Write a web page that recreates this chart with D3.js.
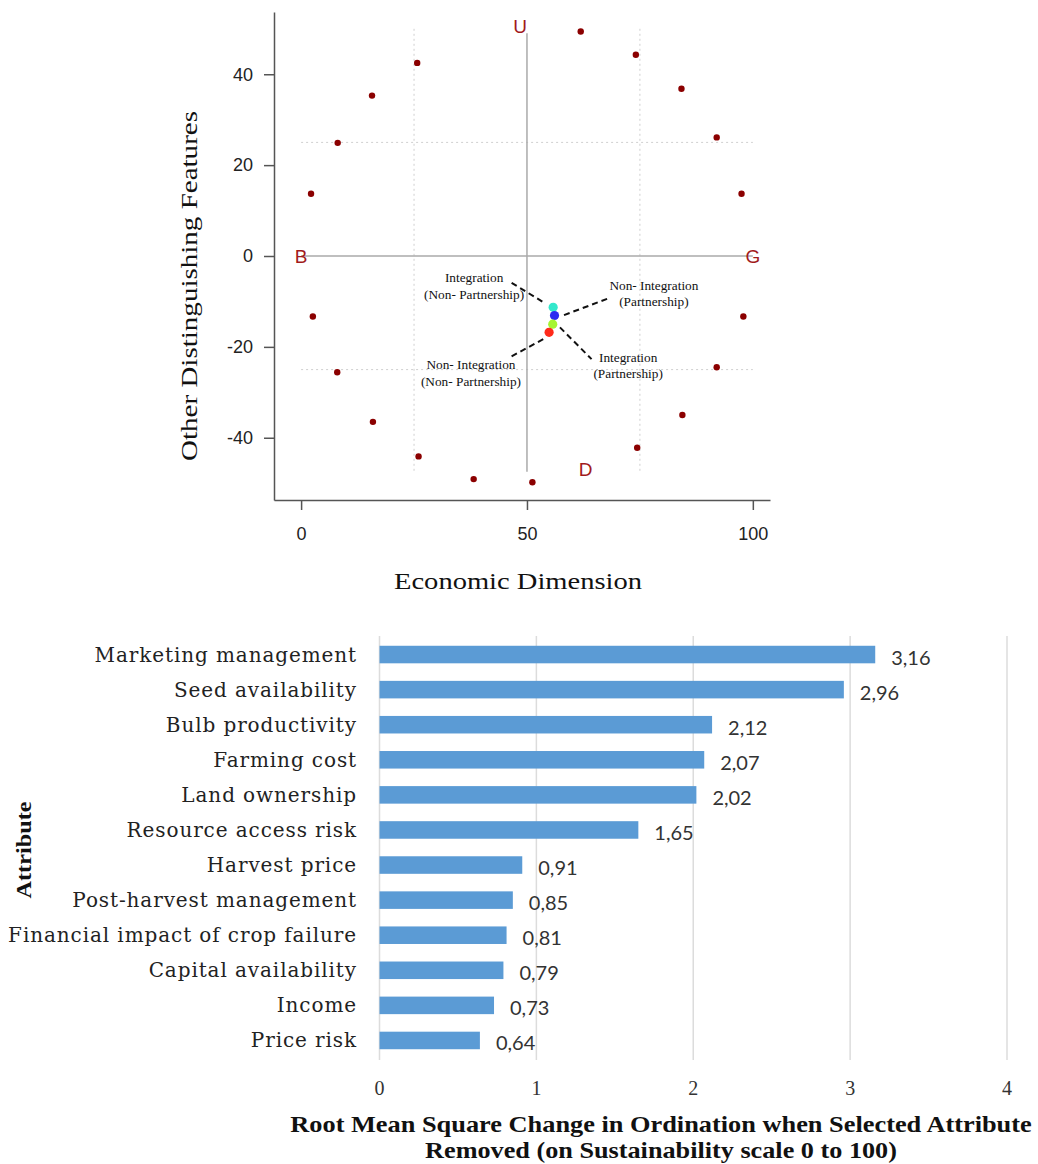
<!DOCTYPE html>
<html>
<head>
<meta charset="utf-8">
<script src="https://cdn.jsdelivr.net/npm/d3@7"></script>
<style>
  body { margin: 0; background: #fff; }
  svg { display: block; }
</style>
</head>
<body>
<script>
// ---- data: ordination plot ----
var anchorX = [2.2, 8.1, 15.7, 25.7, 61.9, 74.1, 84.2, 92.0, 97.5, 97.9, 92.0, 84.4, 74.4, 51.2, 38.2, 26.0, 15.9, 8.0, 2.6];
var anchorY = [13.7, 24.9, 35.3, 42.5, 49.4, 44.3, 36.8, 26.1, 13.7, -13.3, -24.5, -35.0, -42.2, -49.8, -49.1, -44.1, -36.5, -25.6, -13.3];

var groupNames = ["Integration (Non- Partnership)", "Non- Integration (Partnership)", "Integration (Partnership)", "Non- Integration (Non- Partnership)"];
var groupX = [55.8, 56.1, 55.7, 54.9];
var groupY = [-11.3, -13.1, -15.0, -16.8];

var poleLabels = ["U", "B", "G", "D"];
var poleX = [48.5, 0, 100, 63];
var poleY = [50.5, 0, 0, -47];

var xTicks = [0, 50, 100];
var yTicks = [-40, -20, 0, 20, 40];

// ---- data: leverage bars ----
var attributes = ["Marketing management", "Seed availability", "Bulb productivity", "Farming cost",
  "Land ownership", "Resource access risk", "Harvest price", "Post-harvest management",
  "Financial impact of crop failure", "Capital availability", "Income", "Price risk"];
var rmsValues = [3.16, 2.96, 2.12, 2.07, 2.02, 1.65, 0.91, 0.85, 0.81, 0.79, 0.73, 0.64];
var barTicks = [0, 1, 2, 3, 4];

var svg = d3.select("body").append("svg")
  .attr("width", 1038)
  .attr("height", 1164);

// text squeezed/stretched horizontally to a target width (the source picture is stretched)
function stretchedText(parent, str, cx, cy, width, angle, font, size, weight) {
  var g = parent.append("g");
  var t = g.append("text")
    .text(str)
    .attr("text-anchor", "middle")
    .attr("font-family", font)
    .attr("font-size", size)
    .attr("font-weight", weight || "normal")
    .attr("fill", "#111");
  var sx = width / t.node().getComputedTextLength();
  g.attr("transform", "translate(" + cx + "," + cy + ") rotate(" + (angle || 0) + ") scale(" + sx + ",1)");
  return g;
}

//=== top chart ===
var x = d3.scaleLinear().domain([-6, 103.8]).range([274, 770]);
var y = d3.scaleLinear().domain([-53.7, 53.7]).range([500, 12]);

var topG = svg.append("g");

// dotted guide lines
[25, -25].forEach(function(v) {
  topG.append("line")
    .attr("x1", x(0)).attr("x2", x(100))
    .attr("y1", y(v)).attr("y2", y(v))
    .attr("stroke", "#cfcfcf").attr("stroke-width", 1).attr("stroke-dasharray", "2,3");
});
[25, 75].forEach(function(v) {
  topG.append("line")
    .attr("x1", x(v)).attr("x2", x(v))
    .attr("y1", y(50)).attr("y2", y(-47.5))
    .attr("stroke", "#cfcfcf").attr("stroke-width", 1).attr("stroke-dasharray", "2,3");
});

// solid reference lines
topG.append("line")
  .attr("x1", x(0)).attr("x2", x(100))
  .attr("y1", y(0)).attr("y2", y(0))
  .attr("stroke", "#aaaaaa").attr("stroke-width", 1.5);
topG.append("line")
  .attr("x1", x(50)).attr("x2", x(50))
  .attr("y1", y(49)).attr("y2", y(-47.5))
  .attr("stroke", "#aaaaaa").attr("stroke-width", 1.5);

// axes
var plain = function(d) { return String(d); };
var yAxis = topG.append("g")
  .attr("transform", "translate(" + x(-6) + ",0)")
  .call(d3.axisLeft(y).tickValues(yTicks).tickFormat(plain).tickSize(10).tickSizeOuter(0).tickPadding(11));
var xAxis = topG.append("g")
  .attr("transform", "translate(0," + y(-53.7) + ")")
  .call(d3.axisBottom(x).tickValues(xTicks).tickFormat(plain).tickSize(10).tickSizeOuter(0).tickPadding(17));
[yAxis, xAxis].forEach(function(a) {
  a.selectAll("path, line").attr("stroke", "#555").attr("stroke-width", 1.5);
  a.selectAll("text").attr("font-family", "Liberation Sans, Arial, sans-serif")
    .attr("font-size", "18px").attr("fill", "#222");
});

// anchor points
topG.selectAll("circle.anchor")
  .data(anchorX)
  .enter()
  .append("circle")
  .attr("class", "anchor")
  .attr("cx", function(d) { return x(d); })
  .attr("cy", function(d, i) { return y(anchorY[i]); })
  .attr("r", 3.2)
  .attr("fill", "#8b0000");

// pole labels
topG.selectAll("text.pole")
  .data(poleLabels)
  .enter()
  .append("text")
  .attr("class", "pole")
  .text(function(d) { return d; })
  .attr("x", function(d, i) { return x(poleX[i]); })
  .attr("y", function(d, i) { return y(poleY[i]); })
  .attr("dy", "0.36em")
  .attr("text-anchor", "middle")
  .attr("font-family", "Liberation Sans, Arial, sans-serif")
  .attr("font-size", "19px")
  .attr("fill", "#a11b1b");

// leader lines (data coords) and label anchors
var leaders = [
  {from: [46.6, -5.9], to: [53.5, -10.1], lab: [38.3, -4.8]},
  {from: [58.2, -13.0], to: [68.4, -9.2], lab: [78.1, -6.4]},
  {from: [57.3, -15.7], to: [64.3, -22.7], lab: [72.4, -22.2]},
  {from: [53.6, -18.3], to: [46.2, -22.3], lab: [37.6, -23.9]}
];
var groupColor = d3.scaleOrdinal().domain(groupNames)
  .range(["#33e8cc", "#2b2bf0", "#a6f531", "#ff2a1a"]);

topG.selectAll("line.leader")
  .data(leaders)
  .enter()
  .append("line")
  .attr("class", "leader")
  .attr("x1", function(d) { return x(d.from[0]); })
  .attr("y1", function(d) { return y(d.from[1]); })
  .attr("x2", function(d) { return x(d.to[0]); })
  .attr("y2", function(d) { return y(d.to[1]); })
  .attr("stroke", "#111").attr("stroke-width", 2).attr("stroke-dasharray", "6,4");

var labs = topG.selectAll("text.glabel")
  .data(groupNames)
  .enter()
  .append("text")
  .attr("class", "glabel")
  .attr("text-anchor", "middle")
  .attr("font-family", "Liberation Serif, Times New Roman, serif")
  .attr("font-size", "13.3px")
  .attr("fill", "#111");
labs.each(function(d, i) {
  var parts = d.split(" (");
  var t = d3.select(this);
  var lx = x(leaders[i].lab[0]), ly = y(leaders[i].lab[1]);
  t.append("tspan").attr("x", lx).attr("y", ly).attr("dy", "0.35em").text(parts[0]);
  t.append("tspan").attr("x", lx).attr("y", ly + 16.3).attr("dy", "0.35em").text("(" + parts[1]);
});

topG.selectAll("circle.group")
  .data(groupNames)
  .enter()
  .append("circle")
  .attr("class", "group")
  .attr("cx", function(d, i) { return x(groupX[i]); })
  .attr("cy", function(d, i) { return y(groupY[i]); })
  .attr("r", 4.6)
  .attr("fill", function(d) { return groupColor(d); });

// axis titles
var serif = "Liberation Serif, Times New Roman, serif";
stretchedText(topG, "Economic Dimension", 518, 589, 248, 0, serif, "23px");
stretchedText(topG, "Other Distinguishing Features", 197, 286, 350, -90, serif, "23px");

//=== bottom chart ===
var xb = d3.scaleLinear().domain([0, 4]).range([379.5, 1007]);
var yb = d3.scaleBand().domain(attributes).range([637, 1058]).paddingInner(0.5).paddingOuter(0.25);
var comma = d3.formatLocale({decimal: ",", thousands: ".", grouping: [3], currency: ["", ""]}).format(".2f");

var bot = svg.append("g");

bot.selectAll("line.grid")
  .data(barTicks)
  .enter()
  .append("line")
  .attr("class", "grid")
  .attr("x1", function(d) { return xb(d); })
  .attr("x2", function(d) { return xb(d); })
  .attr("y1", 636).attr("y2", 1060)
  .attr("stroke", "#dcdcdc").attr("stroke-width", 1.5);

bot.selectAll("rect.bar")
  .data(rmsValues)
  .enter()
  .append("rect")
  .attr("class", "bar")
  .attr("x", xb(0))
  .attr("y", function(d, i) { return yb(attributes[i]); })
  .attr("width", function(d) { return xb(d) - xb(0); })
  .attr("height", yb.bandwidth())
  .attr("fill", "#5b9bd5");

bot.selectAll("text.val")
  .data(rmsValues)
  .enter()
  .append("text")
  .attr("class", "val")
  .text(function(d) { return comma(d); })
  .attr("x", function(d) { return xb(d) + 16; })
  .attr("y", function(d, i) { return yb(attributes[i]) + yb.bandwidth() / 2 + 3; })
  .attr("dy", "0.35em")
  .attr("font-family", "Lato, Open Sans, sans-serif")
  .attr("font-size", "20px")
  .attr("fill", "#333");

bot.selectAll("text.cat")
  .data(attributes)
  .enter()
  .append("text")
  .attr("class", "cat")
  .text(function(d) { return d; })
  .attr("x", 357)
  .attr("y", function(d) { return yb(d) + yb.bandwidth() / 2; })
  .attr("dy", "0.35em")
  .attr("text-anchor", "end")
  .attr("font-family", "DejaVu Serif, serif")
  .attr("font-size", "20px")
  .attr("letter-spacing", "0.9px")
  .attr("fill", "#222");

bot.selectAll("text.tick")
  .data(barTicks)
  .enter()
  .append("text")
  .attr("class", "tick")
  .text(function(d) { return d; })
  .attr("x", function(d) { return xb(d); })
  .attr("y", 1088)
  .attr("dy", "0.35em")
  .attr("text-anchor", "middle")
  .attr("font-family", serif)
  .attr("font-size", "20px")
  .attr("fill", "#333");

var titleLines = ["Root Mean Square Change in Ordination when Selected Attribute", "Removed (on Sustainability scale 0 to 100)"];
var titleWidths = [742, 472];
titleLines.forEach(function(s, i) {
  stretchedText(bot, s, 661, 1132 + i * 26, titleWidths[i], 0, serif, "23px", "bold");
});

stretchedText(bot, "Attribute", 31, 850, 97, -90, serif, "21px", "bold");
</script>
</body>
</html>
